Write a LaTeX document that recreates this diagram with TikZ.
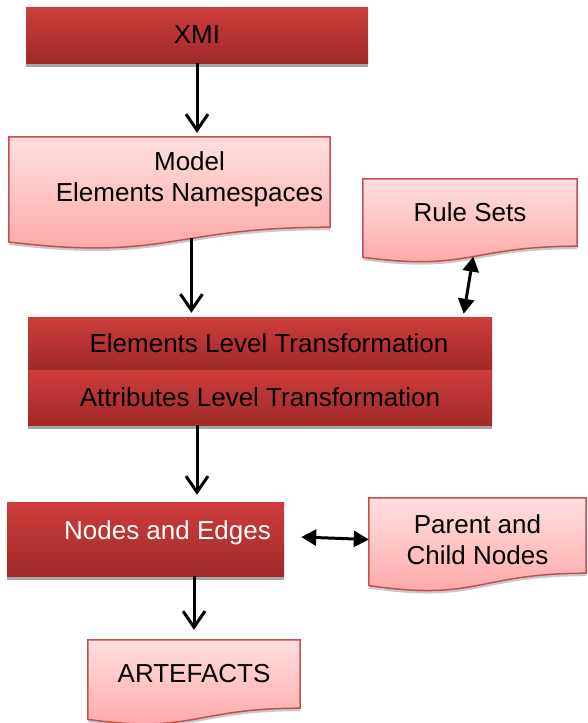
\documentclass[tikz,border=0pt]{standalone}
\usepackage{fontspec}
\setmainfont{Liberation Sans}
\usetikzlibrary{arrows.meta,shadows,calc,backgrounds}

\definecolor{redtop}{HTML}{CD3D3B}
\definecolor{redmid}{HTML}{C23835}
\definecolor{redbot}{HTML}{9F2A28}
\definecolor{pinktop}{HTML}{FFDFDF}
\definecolor{pinkbot}{HTML}{FFA4A4}
\definecolor{pinkline}{HTML}{C4504E}

% wavy bottom of a document box: #1 node, #2 full height, #3 pos of exit point
\newcommand{\docwave}[3]{(#1.north west) -- (#1.north east) -- (#1.south east)
  .. controls (#1.south) and ($(#1.south)+(0,{0.3055*#2})$) .. coordinate[pos=#3] (#1-w)
  ($(#1.south west)+(0,{0.132*#2})$) -- cycle}

\begin{document}
\begin{tikzpicture}[x=1pt, y=-1pt,
  every node/.style={font=\fontsize{26}{31}\selectfont, inner sep=0pt, align=center},
  proc/.style={rectangle, top color=redtop, middle color=redmid, bottom color=redbot,
    drop shadow={shadow xshift=0pt, shadow yshift=-4pt, fill=black!35, opacity=1}},
  doc/.style={rectangle},
  docfill/.style={draw=pinkline, line width=1.5pt, top color=pinktop, bottom color=pinkbot},
  docshadow/.style={fill=black!30, opacity=.7, transform canvas={yshift=-3pt}},
  flow/.style={line width=3pt, -{Straight Barb[length=16pt,width=22pt]}},
  both/.style={line width=3pt, {Triangle[length=15pt,width=16pt]}-{Triangle[length=15pt,width=16pt]}}
]
\useasboundingbox (0,0) rectangle (587,723);

\node[proc, minimum width=342, minimum height=56] (xmi) at (197,35) {XMI};
\node[doc, minimum width=321, minimum height=90,
  label={[xshift=20pt,yshift=3pt]center:Model\\Elements Namespaces}] (model) at (169.5,182) {};
\node[doc, minimum width=214, minimum height=67] (rule) at (470,212.5) {Rule Sets};
\node[proc, minimum width=464, minimum height=53,
  label={[xshift=9pt]center:Elements Level Transformation}] (elem) at (260,343.5) {};
\node[proc, minimum width=464, minimum height=55] (attr) at (260,397.5) {Attributes Level Transformation};
\node[proc, minimum width=277, minimum height=74,
  label={[xshift=22pt,yshift=6pt,text=white]center:Nodes and Edges}] (nodes) at (145.5,539) {};
\node[doc, minimum width=217, minimum height=75,
  label={[yshift=-4pt]center:Parent and\\Child Nodes}] (parent) at (477.5,535.5) {};
\node[doc, minimum width=212, minimum height=68] (art) at (194,674) {ARTEFACTS};

\begin{scope}[on background layer]
\foreach \n/\h/\p in {model/112/.41, rule/83.5/.48, parent/93.5/.5, art/84.8/.5}
{
  \fill[docshadow] \docwave{\n}{\h}{\p};
  \path[docfill] \docwave{\n}{\h}{\p};
}
\end{scope}

\draw[flow, shorten >=4pt] (xmi.south) -- (xmi.south |- model.north);
\draw[flow, shorten >=4pt] (model-w) -- (model-w |- elem.north);
\draw[both, shorten >=3pt] (rule-w) -- ([xshift=-29pt]elem.north east);
\draw[flow, shorten >=7pt] (attr.south -| xmi.south) -- (nodes.north -| xmi.south);
\draw[both] ([xshift=17pt,yshift=2pt]nodes.east) -- ([yshift=-4pt]parent.west);
\draw[flow, shorten >=10pt] (nodes.south -| art.north) -- (art.north);

\end{tikzpicture}
\end{document}
